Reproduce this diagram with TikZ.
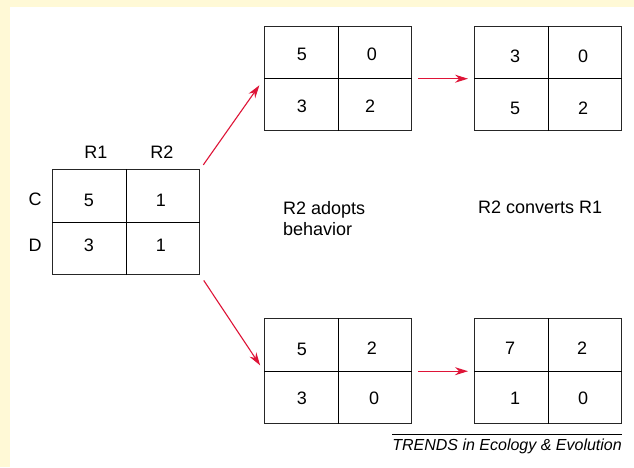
\documentclass[tikz,border=0pt]{standalone}
\usepackage{fontspec}
\setmainfont{Liberation Sans}
\usetikzlibrary{arrows.meta,calc}
\definecolor{bgyellow}{RGB}{255,249,214}
\definecolor{arrowred}{RGB}{222,20,55}
\begin{document}
\begin{tikzpicture}[x=1pt,y=-1pt,
  matbox/.style={draw=black!85,line width=1.4pt,minimum width=147pt,minimum height=104pt,inner sep=0pt,anchor=north west},
  divider/.style={draw=black,line width=1.2pt},
  num/.style={font=\fontsize{18}{21}\selectfont,inner sep=0pt},
  lbl/.style={font=\fontsize{18}{21}\selectfont,inner sep=0pt},
  redarrow/.style={draw=arrowred,line width=1.1pt,-{Stealth[length=13pt,width=8pt]}}
]
\useasboundingbox (0,0) rectangle (634,467);
\fill[bgyellow] (0,0) rectangle (634,467);
\fill[white] (10,7) rectangle (634,467);

% matrices
\node[matbox,minimum height=105pt] (L) at (52,169) {};
\node[matbox] (TM) at (264,26) {};
\node[matbox] (TR) at (474,26) {};
\node[matbox,minimum height=105pt] (BM) at (264,318) {};
\node[matbox,minimum height=105pt] (BR) at (474,318) {};

\foreach \m in {L,TM,TR,BM,BR}{
  \draw[divider] (\m.north) -- (\m.south);
  \draw[divider] (\m.west) -- (\m.east);
}

% left matrix labels
\node[lbl] (r1) at (96,152) {R1};
\node[lbl] (r2) at (162,152) {R2};
\node[lbl] (c) at (35,199) {C};
\node[lbl] (d) at (35,245) {D};
\node[num] (l11) at (89,200) {5};
\node[num] (l12) at (161,200) {1};
\node[num] (l21) at (89,245) {3};
\node[num] (l22) at (161,245) {1};

% top middle
\node[num] (tm11) at (302,54) {5};
\node[num] (tm12) at (372,54) {0};
\node[num] (tm21) at (302,106) {3};
\node[num] (tm22) at (370,106) {2};

% top right
\node[num] (tr11) at (515,56) {3};
\node[num] (tr12) at (583,56) {0};
\node[num] (tr21) at (515,108) {5};
\node[num] (tr22) at (583,108) {2};

% bottom middle
\node[num] (bm11) at (302,349) {5};
\node[num] (bm12) at (372,348) {2};
\node[num] (bm21) at (302,398) {3};
\node[num] (bm22) at (374,398) {0};

% bottom right
\node[num] (br11) at (510,348) {7};
\node[num] (br12) at (582,348) {2};
\node[num] (br21) at (515,398) {1};
\node[num] (br22) at (583,398) {0};

% middle texts
\node[lbl,anchor=west,align=left] (adopt) at (283,219) {R2 adopts\\behavior};
\node[lbl,anchor=west] (convert) at (478,207) {R2 converts R1};

% arrows
\draw[redarrow,shorten <=5pt,shorten >=8pt] (L.north east) -- (TM.west);
\draw[redarrow,shorten <=6pt,shorten >=7pt] (L.south east) -- (BM.west);
\draw[redarrow,shorten <=6pt,shorten >=6pt] (TM.east) -- (TR.west);
\draw[redarrow,shorten <=6pt,shorten >=6pt] (BM.east) -- (BR.west);

% caption
\node[font=\fontsize{16}{19}\selectfont\itshape,inner sep=0pt,anchor=base east] (cap) at (622,450) {TRENDS in Ecology \& Evolution};
\draw[line width=0.8pt] (cap.north west |- 0,434) coordinate (cl) -- (cl -| cap.north east);
\end{tikzpicture}
\end{document}
